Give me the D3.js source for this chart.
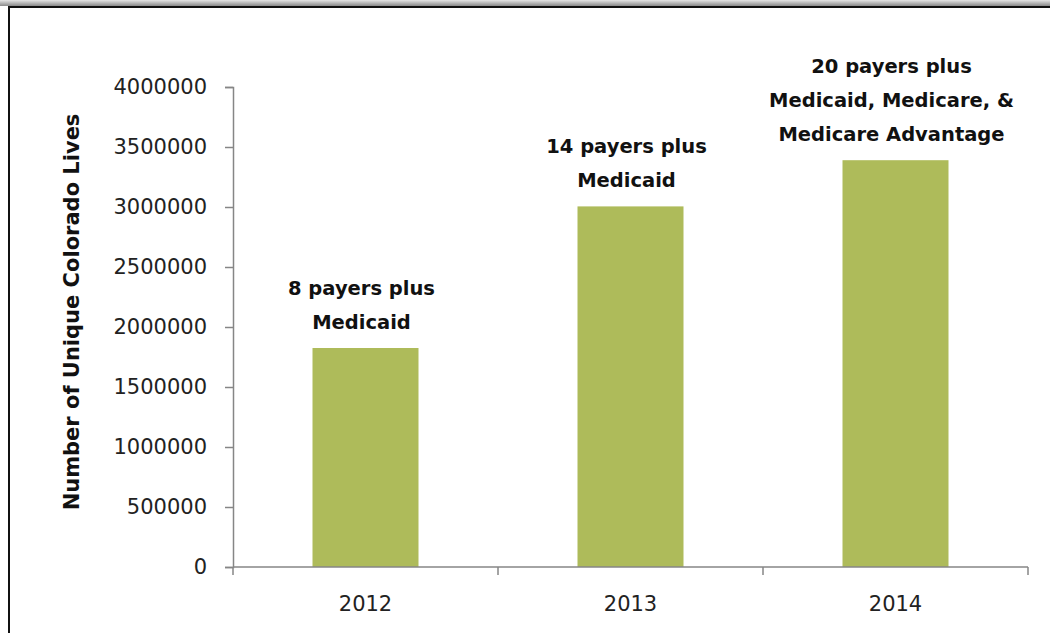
<!DOCTYPE html>
<html>
<head>
<meta charset="utf-8">
<script src="https://cdn.jsdelivr.net/npm/d3@7"></script>
<style>
  html, body { margin: 0; padding: 0; background: #fff; }
  svg { display: block; }
</style>
</head>
<body>
<svg id="chart" width="1050" height="633"></svg>
<script>
const categories = ["2012", "2013", "2014"];
const values = [1825000, 3005000, 3390000];
const annotations = [
  ["8 payers plus", "Medicaid"],
  ["14 payers plus", "Medicaid"],
  ["20 payers plus", "Medicaid, Medicare, &", "Medicare Advantage"]
];
const yTicks = [0, 500000, 1000000, 1500000, 2000000, 2500000, 3000000, 3500000, 4000000];
const yTitle = "Number of Unique Colorado Lives";

const svg = d3.select("#chart");
const W = 1050, H = 633;

// frame shadow + border
const defs = svg.append("defs");
const g1 = defs.append("linearGradient").attr("id", "topShadow").attr("x1", 0).attr("y1", 0).attr("x2", 0).attr("y2", 1);
g1.append("stop").attr("offset", "0%").attr("stop-color", "#e6e6e6");
g1.append("stop").attr("offset", "100%").attr("stop-color", "#8a8a8a");
svg.append("rect").attr("x", 0).attr("y", 0).attr("width", W).attr("height", 6).attr("fill", "url(#topShadow)");
svg.append("rect").attr("x", 8).attr("y", 6).attr("width", W - 8).attr("height", 2).attr("fill", "#111");
svg.append("rect").attr("x", 8).attr("y", 6).attr("width", 2).attr("height", H - 6).attr("fill", "#111");

const margin = { left: 233, right: 1028, top: 87, bottom: 567 };

const x = d3.scaleBand().domain(categories).range([margin.left, margin.right])
  .paddingInner(0.6).paddingOuter(0.3);
const xOuter = d3.scaleBand().domain(categories).range([margin.left, margin.right]).padding(0);
const y = d3.scaleLinear().domain([0, 4000000]).range([margin.bottom, margin.top]);

const axisColor = "#868686";
const tickFont = "'DejaVu Sans', sans-serif";

// bars
svg.append("g").selectAll("rect").data(categories).join("rect")
  .attr("x", d => x(d))
  .attr("y", (d, i) => y(values[i]))
  .attr("width", x.bandwidth())
  .attr("height", (d, i) => y(0) - y(values[i]))
  .attr("fill", "#aebb5a");

// y axis
const yAxis = svg.append("g").attr("transform", `translate(${margin.left},0)`)
  .call(d3.axisLeft(y).tickValues(yTicks).tickFormat(d3.format("d")).tickSize(8).tickPadding(18));
yAxis.select(".domain").attr("stroke", axisColor).attr("stroke-width", 1.5);
yAxis.selectAll(".tick line").attr("stroke", axisColor).attr("stroke-width", 1.5);
yAxis.selectAll(".tick text").attr("fill", "#222").style("font-family", tickFont).style("font-size", "21px");

// x axis: baseline with boundary ticks going down
const xg = svg.append("g");
xg.append("line").attr("x1", margin.left).attr("x2", margin.right)
  .attr("y1", y(0)).attr("y2", y(0)).attr("stroke", axisColor).attr("stroke-width", 1.5);
const bounds = categories.map(c => xOuter(c)).concat([xOuter(categories[categories.length - 1]) + xOuter.bandwidth()]);
xg.selectAll("line.bt").data(bounds).join("line").attr("class", "bt")
  .attr("x1", d => d).attr("x2", d => d)
  .attr("y1", y(0)).attr("y2", y(0) + 8)
  .attr("stroke", axisColor).attr("stroke-width", 1.5);
xg.selectAll("text").data(categories).join("text")
  .attr("x", d => x(d) + x.bandwidth() / 2)
  .attr("y", y(0) + 44)
  .attr("text-anchor", "middle")
  .attr("fill", "#222")
  .style("font-family", tickFont).style("font-size", "21px")
  .text(d => d);

// y title
svg.append("text")
  .attr("transform", `translate(79,${(margin.top + margin.bottom) / 2 - 15}) rotate(-90)`)
  .attr("text-anchor", "middle")
  .attr("fill", "#111")
  .style("font-family", tickFont).style("font-weight", "bold").style("font-size", "21px")
  .text(yTitle);

// annotations
const lineH = 34;
categories.forEach((c, i) => {
  const lines = annotations[i];
  const cx = x(c) + x.bandwidth() / 2 - 4;
  const baseY = y(values[i]) - 19;
  const t = svg.append("text").attr("text-anchor", "middle").attr("fill", "#111")
    .style("font-family", tickFont).style("font-weight", "bold").style("font-size", "19.5px");
  lines.forEach((ln, j) => {
    t.append("tspan").attr("x", cx).attr("y", baseY - (lines.length - 1 - j) * lineH).text(ln);
  });
});
</script>
</body>
</html>
